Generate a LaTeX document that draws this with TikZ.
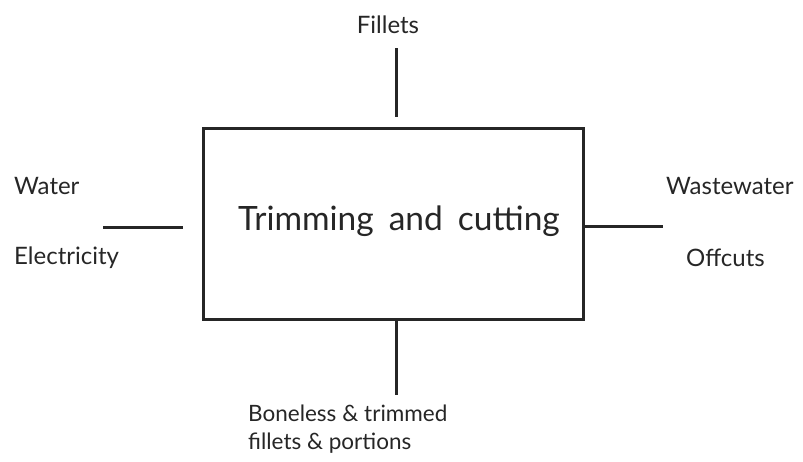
\documentclass[tikz,border=0pt]{standalone}
\usepackage{fontspec}
\setmainfont{Lato}
\begin{document}
\begin{tikzpicture}[x=1pt,y=-1pt,
  lbl/.style={inner sep=0pt, font=\fontsize{24}{29}\selectfont, text=black!85},
  conn/.style={line width=3pt, black!85},
  procbox/.style={draw=black!85, line width=3pt, minimum width=380pt, minimum height=191pt, inner sep=0pt}]
\useasboundingbox (0,0) rectangle (803,461);
\node[procbox] (box) at (393,223.5) {};
\node[lbl, font=\fontsize{33.5}{38}\selectfont] (title) at (399,221) {Trimming\hspace{15pt}and\hspace{15pt}cutting};
\node[lbl] (fillets) at (388,25) {Fillets};
\coordinate (t1) at (396,48);
\coordinate (t2) at (396,117);
\draw[conn] (t1) -- (t2);
\node[lbl, anchor=west] (water) at (14,186) {Water};
\node[lbl, anchor=west] (elec) at (14,258) {Electricity};
\coordinate (l1) at (103,227);
\coordinate (l2) at (183,227);
\draw[conn] (l1) -- (l2);
\node[lbl, anchor=west] (waste) at (666,186) {Wastewater};
\node[lbl, anchor=west] (off) at (686,258) {Offcuts};
\coordinate (r2) at (663,226);
\draw[conn] (box.east |- r2) -- (r2);
\node[lbl, anchor=west, font=\fontsize{22.5}{27}\selectfont] (bon) at (248,413) {Boneless\hspace{6pt}\& trimmed};
\node[lbl, anchor=west, font=\fontsize{22.5}{27}\selectfont] (fp) at (248,443) {fillets \& portions};
\coordinate (b2) at (396,395);
\draw[conn] (box.south -| b2) -- (b2);
\end{tikzpicture}
\end{document}
